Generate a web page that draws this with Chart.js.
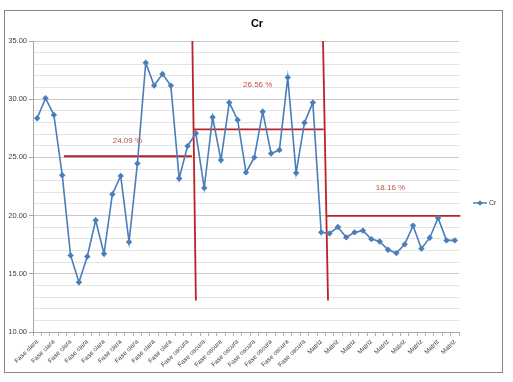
<!DOCTYPE html>
<html>
<head>
<meta charset="utf-8">
<script src="https://cdn.jsdelivr.net/npm/chart.js@4/dist/chart.umd.min.js"></script>
<style>
  html, body { margin: 0; padding: 0; background: #ffffff; }
  #wrap { width: 513px; height: 382px; }
</style>
</head>
<body>
<div id="wrap"><canvas id="crChart" width="513" height="382"></canvas></div>
<script>
// group names and how many samples each one has (x tick labels)
const groupNames = ["Fase clara", "Fase oscura", "Matriz"];
const groupSizes = [18, 16, 17];

// Cr values
const crValues = [
  28.36, 30.09, 28.65, 23.47, 16.58, 14.28, 16.49, 19.6, 16.72, 21.84,
  23.41, 17.73, 24.48, 33.13, 31.17, 32.16, 31.17, 23.19, 25.97, 27.07,
  22.38, 28.45, 24.77, 29.71, 28.22, 23.71, 25.0, 28.93, 25.34, 25.63,
  31.86, 23.67, 27.98, 29.71, 18.56, 18.47, 19.02, 18.13, 18.56, 18.71,
  17.98, 17.78, 17.07, 16.78, 17.53, 19.14, 17.16, 18.1, 19.8, 17.87, 17.87
];

// red mean lines (value, from index, to index) and their CV labels
const meanValues = [25.1, 27.41, 19.97];
const meanFrom = [3.2, 18.67, 34.63];
const meanTo = [18.52, 34.3, 50.66];
const cvLabels = ["24.09 %", "26.56 %", "18.16 %"];

// red separators between the groups (index at top / bottom)
const sepTopIdx = [18.58, 34.22];
const sepBottomIdx = [19.0, 34.82];
const sepTopVal = 35;
const sepBottomVal = 12.7;

const yMin = 10;
const yMax = 35;

let categories = [];
groupNames.forEach((name, i) => {
  for (let k = 0; k < groupSizes[i]; k++) categories.push(name);
});

const RED = "#bb2229";
const BLUE = "#4a7ebb";
const FONT = "'Liberation Sans', Arial, sans-serif";

const redSets = [];
meanValues.forEach((v, i) => {
  redSets.push({
    label: "mean" + i,
    xAxisID: "x2",
    data: [{ x: meanFrom[i], y: v }, { x: meanTo[i], y: v }],
  });
});
sepTopIdx.forEach((t, i) => {
  redSets.push({
    label: "sep" + i,
    xAxisID: "x2",
    data: [{ x: t, y: sepTopVal }, { x: sepBottomIdx[i], y: sepBottomVal }],
  });
});
redSets.forEach((d) => {
  d.borderColor = RED;
  d.borderWidth = 1.8;
  d.pointRadius = 0;
  d.fill = false;
  d.clip = false;
});

// frame, title, legend and the % labels
const extras = {
  id: "extras",
  beforeDraw(chart) {
    const c = chart.ctx;
    c.save();
    c.fillStyle = "#ffffff";
    c.fillRect(0, 0, chart.width, chart.height);
    c.strokeStyle = "#878787";
    c.lineWidth = 1;
    c.strokeRect(4.5, 10.5, 498, 362);
    c.restore();
  },
  afterDraw(chart) {
    const c = chart.ctx;
    const xs = chart.scales.x2;
    const ys = chart.scales.y;
    c.save();
    // title
    c.fillStyle = "#000000";
    c.font = "bold 11px " + FONT;
    c.textAlign = "center";
    c.textBaseline = "middle";
    c.fillText("Cr", 257, 24);

    // percentages
    const labelAt = [[10.8, 26.4], [26.4, 31.23], [42.3, 22.35]];
    c.fillStyle = "#c0504d";
    c.font = "8px " + FONT;
    cvLabels.forEach((t, i) => {
      c.fillText(t, xs.getPixelForValue(labelAt[i][0]), ys.getPixelForValue(labelAt[i][1]));
    });

    // legend
    const ly = 203;
    c.strokeStyle = BLUE;
    c.lineWidth = 1.5;
    c.beginPath();
    c.moveTo(473, ly);
    c.lineTo(487, ly);
    c.stroke();
    c.fillStyle = BLUE;
    c.beginPath();
    c.moveTo(480, ly - 2.8);
    c.lineTo(482.8, ly);
    c.lineTo(480, ly + 2.8);
    c.lineTo(477.2, ly);
    c.closePath();
    c.fill();
    c.fillStyle = "#404040";
    c.font = "7px " + FONT;
    c.textAlign = "left";
    c.fillText("Cr", 489, ly);
    c.restore();
  },
};

const ctx = document.getElementById("crChart").getContext("2d");
new Chart(ctx, {
  type: "line",
  data: {
    labels: categories,
    datasets: [
      {
        label: "Cr",
        data: crValues,
        borderColor: BLUE,
        backgroundColor: BLUE,
        borderWidth: 1.6,
        pointStyle: "rectRot",
        pointRadius: 3.2,
        pointBackgroundColor: BLUE,
        pointBorderColor: BLUE,
        pointBorderWidth: 0,
        tension: 0,
        fill: false,
      },
      ...redSets,
    ],
  },
  options: {
    responsive: false,
    animation: false,
    devicePixelRatio: 1,
    layout: { padding: { left: 4, right: 54, top: 41, bottom: 10 } },
    plugins: {
      legend: { display: false },
      title: { display: false },
      tooltip: { enabled: false },
    },
    scales: {
      x: {
        type: "category",
        offset: true,
        grid: {
          offset: true,
          drawOnChartArea: false,
          drawTicks: true,
          tickLength: 4,
          color: "#b5b5b5",
        },
        border: { color: "#a6a6a6" },
        ticks: {
          autoSkip: false,
          maxRotation: 45,
          minRotation: 45,
          padding: 2,
          color: "#404040",
          font: { family: FONT, size: 6.5 },
          callback: function (value, index) {
            return index % 2 === 0 ? this.getLabelForValue(value) : "";
          },
        },
        afterFit(scale) {
          scale.height = 40;
        },
      },
      x2: {
        type: "linear",
        display: false,
        min: -0.5,
        max: crValues.length - 0.5,
      },
      y: {
        min: yMin,
        max: yMax,
        grid: {
          color: (c) => (c.tick && c.tick.value % 5 === 0 ? "#c9c9c9" : "#e3e3e3"),
          tickColor: (c) => (c.tick && c.tick.value % 5 === 0 ? "#a6a6a6" : "rgba(0,0,0,0)"),
          tickLength: 4,
        },
        border: { color: "#a6a6a6" },
        ticks: {
          stepSize: 1,
          autoSkip: false,
          padding: 2,
          color: "#404040",
          font: { family: FONT, size: 7.5 },
          callback: (v) => (v % 5 === 0 ? v.toFixed(2) : ""),
        },
        afterFit(scale) {
          scale.width = 29;
        },
      },
    },
  },
  plugins: [extras],
});
</script>
</body>
</html>
